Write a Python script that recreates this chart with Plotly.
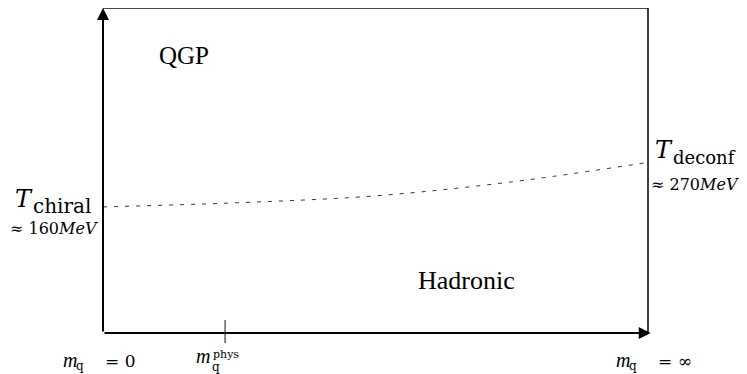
import plotly.graph_objects as go

# Normalised quark mass (0 = chiral limit, 1 = infinite) and normalised temperature
curve_m = [0.0, 0.25, 0.5, 0.75, 1.0]
curve_T = [0.388, 0.401, 0.422, 0.465, 0.525]
m_phys = 0.224
region_labels = ["QGP", "Hadronic"]

OFF = 8              # page body margin
W, H = 747 - OFF, 374 - OFF
X0, X1 = 103 - OFF, 648 - OFF   # pixel positions of m=0 and m=1 (inside the figure)
Y0, Y1 = 333 - OFF, 8 - OFF     # pixel positions of T=0 and T=1
sx = (X1 - X0)
sy = (Y0 - Y1)
xr = [(0 - X0) / sx, (W - X0) / sx]
yr = [(Y0 - H) / sy, (Y0 - 0) / sy]

def px(xp):  # reference-screenshot pixel -> data
    return (xp - OFF - X0) / sx

def py(yp):
    return (Y0 - (yp - OFF)) / sy

SERIF = "DejaVu Serif, Liberation Serif, serif"
TEXTF = "Liberation Serif, serif"

fig = go.Figure()

# frame top & right
fig.add_trace(go.Scatter(x=[0, 1, 1], y=[1, 1, 0], mode="lines",
                         line=dict(color="#111", width=1.6), hoverinfo="skip"))
# dashed transition curve
fig.add_trace(go.Scatter(x=curve_m, y=curve_T, mode="lines", line_shape="spline",
                         line=dict(color="#333", width=1, dash="4px,7px"), hoverinfo="skip"))
# physical mass tick
fig.add_trace(go.Scatter(x=[m_phys, m_phys], y=[py(320), py(343)], mode="lines",
                         line=dict(color="#111", width=1), hoverinfo="skip"))

ann = []
# axes with arrows
ann.append(dict(x=1.005, y=0, ax=0, ay=0, xref="x", yref="y", axref="x", ayref="y",
                showarrow=True, arrowhead=2, arrowsize=1.2, arrowwidth=2, arrowcolor="#000", text=""))
ann.append(dict(x=0, y=1.0, ax=0, ay=0, xref="x", yref="y", axref="x", ayref="y",
                showarrow=True, arrowhead=2, arrowsize=1.2, arrowwidth=2, arrowcolor="#000", text=""))

def txt(x, y, s, size, anchor="left", fam=SERIF):
    ann.append(dict(x=px(x), y=py(y), xref="x", yref="y", text=s, showarrow=False,
                    font=dict(family=fam, size=size, color="#000"), xanchor=anchor,
                    yanchor="middle", borderpad=0))

txt(184, 55, region_labels[0], 25, "center", TEXTF)
txt(466, 280, region_labels[1], 26, "center", TEXTF)

# T_chiral
txt(14, 199, "<i>T</i>", 24)
txt(32, 206, "chiral", 20)
txt(54, 228, "≈ 160<i>MeV</i>", 16, "center")
# T_deconf
txt(654, 150, "<i>T</i>", 24)
txt(672, 157, "deconf", 18)
txt(695, 184, "≈ 270<i>MeV</i>", 16, "center")

# bottom labels
txt(62, 360, "<i>m</i>", 20, "left", TEXTF)
txt(75, 366, "q", 12)
txt(104, 361, "= 0", 17)
txt(615, 360, "<i>m</i>", 20, "left", TEXTF)
txt(628, 366, "q", 12)
txt(657, 361, "= ∞", 17)
txt(195, 356, "<i>m</i>", 20, "left", TEXTF)
txt(211, 367, "q", 12)
txt(212, 354, "phys", 11)

fig.update_layout(
    width=W, height=H, margin=dict(l=0, r=0, t=0, b=0),
    paper_bgcolor="white", plot_bgcolor="white", showlegend=False,
    xaxis=dict(range=xr, visible=False, fixedrange=True),
    yaxis=dict(range=yr, visible=False, fixedrange=True),
    annotations=ann,
)
fig.write_html("out.html")
